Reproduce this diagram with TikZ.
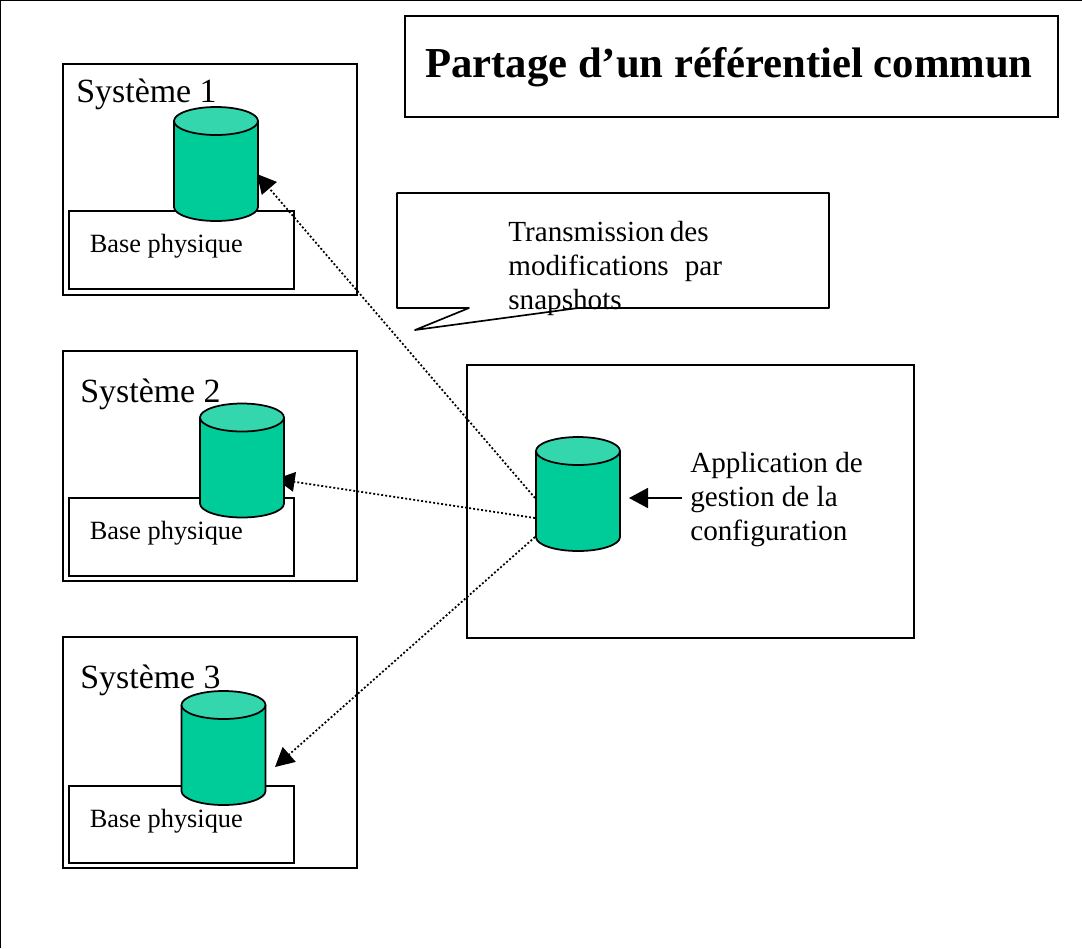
\documentclass[tikz,border=0pt]{standalone}
\usepackage{fontspec}
\setmainfont{Liberation Serif}
\usetikzlibrary{arrows.meta}
\definecolor{cylbody}{RGB}{0,204,153}
\definecolor{cyltop}{RGB}{51,214,173}
\tikzset{
  boxnode/.style={draw=black,line width=0.95pt,anchor=north west,inner sep=0pt,outer sep=0pt},
  sysname/.style={anchor=base west,inner sep=0pt,font=\fontsize{19.3}{19.3}\selectfont},
  basename/.style={anchor=base west,inner sep=0pt,font=\fontsize{15}{15}\selectfont},
  bodytext/.style={anchor=north west,inner sep=0pt,align=left,font=\fontsize{16.6}{19.2}\selectfont},
  diskbox/.style={minimum width=84*0.02cm,minimum height=114*0.02cm,inner sep=0pt,outer sep=0pt},
  diskline/.style={draw=black,line width=1pt},
  syncline/.style={line width=1pt,dash pattern=on 1.1pt off 1.2pt,-{Triangle[length=0.38cm,width=0.39cm]}},
  inputline/.style={line width=1pt,-{Triangle[length=0.38cm,width=0.4cm]}},
}
\begin{document}
\begin{tikzpicture}[x=0.02cm,y=-0.02cm]
\useasboundingbox (0,0) rectangle (1082,948);
\draw[line width=0.95pt] (0.5,948) -- (0.5,0.5) -- (1082,0.5);

\node (titlebox) [boxnode,minimum width=653*0.02cm,minimum height=101*0.02cm] at (405,16) {};
\node (title) [anchor=base,inner sep=0pt,font=\fontsize{24.3}{24.3}\selectfont\bfseries] at (729,77) {Partage d’un référentiel commun};

% systems
\node (sysA) [boxnode,minimum width=294*0.02cm,minimum height=231*0.02cm] at (63,64) {};
\node (sysB) [boxnode,minimum width=294*0.02cm,minimum height=230*0.02cm] at (63,351) {};
\node (sysC) [boxnode,minimum width=294*0.02cm,minimum height=231*0.02cm] at (63,637) {};
\node (nameA) [sysname] at (76,102) {Système 1};
\node (nameB) [sysname] at (80,402) {Système 2};
\node (nameC) [sysname] at (80,688) {Système 3};

\node (baseA) [boxnode,minimum width=225*0.02cm,minimum height=78*0.02cm] at (69,211) {};
\node (baseB) [boxnode,minimum width=225*0.02cm,minimum height=78*0.02cm] at (69,498) {};
\node (baseC) [boxnode,minimum width=225*0.02cm,minimum height=77*0.02cm] at (69,786) {};
\node (labelA) [basename] at (89.5,252) {Base physique};
\node (labelB) [basename] at (89.5,539) {Base physique};
\node (labelC) [basename] at (89.5,827) {Base physique};

% configuration
\node (appbox) [boxnode,minimum width=447*0.02cm,minimum height=273*0.02cm] at (467,365) {};
\node (apptext) [bodytext] at (690,452) {Application de\\gestion de la\\configuration};

% callout
\draw[line width=0.95pt,line join=round,fill=white] (397,193) -- (829,193) -- (829,308) -- (578,308)
  -- (415,330) -- (469,308) -- (397,308) -- cycle;
\node (calltext) [bodytext] at (508,221) {Transmission\kern3pt des\\modifications\hspace{0.55em}par\\snapshots};

% connectors
\coordinate (fromA) at (535,498);
\coordinate (fromB) at (535,518);
\coordinate (fromC) at (535,537);
\coordinate (toA) at (257,174);
\coordinate (toB) at (275.7,479);
\coordinate (toC) at (275,767);
\draw[syncline] (fromA) -- (toA);
\draw[syncline] (fromB) -- (toB);
\draw[syncline] (fromC) -- (toC);
\coordinate (appfrom) at (682,498);
\coordinate (appto) at (629,498);
\draw[inputline] (appfrom) -- (appto);

% disks
\foreach \n/\x/\y in {diskA/216/164,diskB/242/460.5,diskC/223.5/748,diskD/578/494}{
  \node (\n) [diskbox] at (\x,\y) {};
  \path[diskline,fill=cylbody] ([yshift=-14*0.02cm]\n.north west) -- ([yshift=14*0.02cm]\n.south west)
    arc[start angle=180,end angle=0,x radius=42,y radius=14] -- ([yshift=-14*0.02cm]\n.north east);
  \path[diskline,fill=cyltop] ([yshift=-14*0.02cm]\n.north) ellipse[x radius=42,y radius=14];
}
\end{tikzpicture}
\end{document}
